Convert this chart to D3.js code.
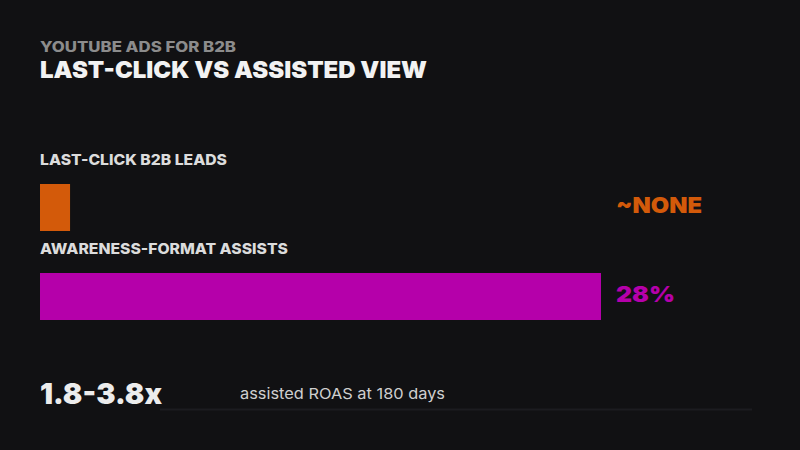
<!DOCTYPE html>
<html><head><meta charset="utf-8">
<script src="https://cdn.jsdelivr.net/npm/d3@7"></script>
<style>
html,body{margin:0;padding:0;background:#111113;}
svg{display:block;}
</style></head>
<body>
<svg id="chart" width="800" height="450"></svg>
<script>
const categories = ["LAST-CLICK B2B LEADS", "AWARENESS-FORMAT ASSISTS"];
const values = [1.5, 28];            // share of attributed leads (%), last-click ≈ none
const valueLabels = ["~NONE", "28%"];
const colors = ["#d35a0a", "#b500aa"];
const kicker = "YOUTUBE ADS FOR B2B";
const title = "LAST-CLICK VS ASSISTED VIEW";
const statValue = "1.8-3.8x";
const statLabel = "assisted ROAS at 180 days";

const svg = d3.select("#chart");
const W = 800, H = 450;
svg.append("rect").attr("width", W).attr("height", H).attr("fill", "#111113");

const heavy = "Inter, 'Noto Sans', sans-serif";

svg.append("text").attr("x", 40).attr("y", 52)
  .attr("font-family", heavy).attr("font-weight", 800).attr("font-size", 14)
  .attr("fill", "#8c8c8c").attr("textLength", 196).attr("lengthAdjust","spacingAndGlyphs").text(kicker);
svg.append("text").attr("x", 40).attr("y", 78)
  .attr("font-family", heavy).attr("font-weight", 900).attr("font-size", 23)
  .attr("fill", "#f2f2f2").attr("textLength", 387).attr("lengthAdjust","spacingAndGlyphs").text(title);

const x = d3.scaleLinear().domain([0, 28]).range([40, 601]);
const rowTop = [184, 273];
const barH = 47;

const g = svg.append("g");
const rows = g.selectAll("g.row").data(categories).join("g").attr("class", "row");

const labelW = [187, 248];
rows.append("text")
  .attr("x", 40).attr("y", (d, i) => rowTop[i] - 19)
  .attr("font-family", heavy).attr("font-weight", 800).attr("font-size", 15)
  .attr("fill", "#dcdcdc")
  .attr("textLength", (d, i) => labelW[i]).attr("lengthAdjust","spacingAndGlyphs")
  .text(d => d);

rows.append("rect")
  .attr("x", x(0)).attr("y", (d, i) => rowTop[i])
  .attr("width", (d, i) => x(values[i]) - x(0)).attr("height", barH)
  .attr("fill", (d, i) => colors[i]);

const vW = [86, 59];
rows.append("text")
  .attr("x", 616).attr("y", (d, i) => rowTop[i] + barH / 2 + 5)
  .attr("font-family", heavy).attr("font-weight", 900).attr("font-size", 22)
  .attr("fill", (d, i) => colors[i])
  .attr("textLength", (d, i) => vW[i]).attr("lengthAdjust","spacingAndGlyphs")
  .text((d, i) => valueLabels[i]);

svg.append("text").attr("x", 40).attr("y", 404)
  .attr("font-family", heavy).attr("font-weight", 900).attr("font-size", 29)
  .attr("fill", "#ececec").attr("textLength", 122).attr("lengthAdjust","spacingAndGlyphs").text(statValue);
svg.append("text").attr("x", 240).attr("y", 399)
  .attr("font-family", heavy).attr("font-weight", 400).attr("font-size", 15)
  .attr("fill", "#cfcfcf").attr("textLength", 205).attr("lengthAdjust","spacingAndGlyphs").text(statLabel);
svg.append("line").attr("x1", 160).attr("x2", 752).attr("y1", 409.5).attr("y2", 409.5)
  .attr("stroke", "#1c1c20").attr("stroke-width", 2);
</script>
</body></html>
